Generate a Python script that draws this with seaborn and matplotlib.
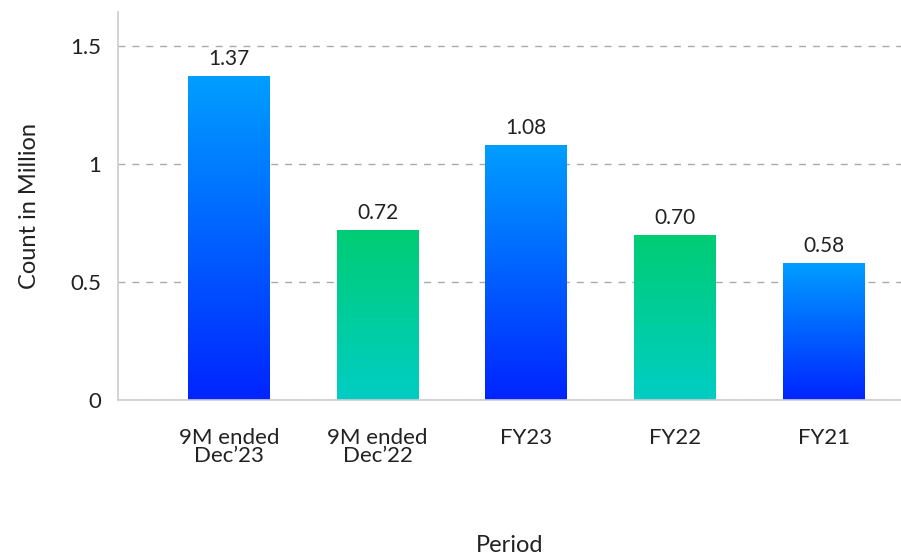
import numpy as np
import pandas as pd
import matplotlib
matplotlib.use("Agg")
import matplotlib.pyplot as plt
from matplotlib.colors import LinearSegmentedColormap
import seaborn as sns

periods = ["9M ended\nDec\u201923", "9M ended\nDec\u201922", "FY23", "FY22", "FY21"]
counts = [1.37, 0.72, 1.08, 0.70, 0.58]
value_labels = ["1.37", "0.72", "1.08", "0.70", "0.58"]
bar_style = ["blue", "green", "blue", "green", "blue"]

df = pd.DataFrame({"Period": periods, "Count": counts})

sns.set_style("white")
plt.rcParams["font.family"] = ["Lato", "DejaVu Sans"]

# gradient maps, top colour first
gradients = {
    "blue": LinearSegmentedColormap.from_list("blue", ["#009eff", "#0024ff"]),
    "green": LinearSegmentedColormap.from_list("green", ["#00cc74", "#00cec4"]),
}

fig = plt.figure(figsize=(9.01, 5.6), dpi=100)
ax = fig.add_axes([0.131, 0.286, 0.869, 0.693])

sns.barplot(data=df, x="Period", y="Count", ax=ax, width=0.55,
            color="white", edgecolor="none")

ax.set_ylim(0, 1.644)
ax.set_xlim(-0.745, 4.52)

# fill each bar with a vertical gradient clipped to the bar
grad = np.linspace(0, 1, 256).reshape(-1, 1)
for patch, style, lab in zip(ax.patches, bar_style, value_labels):
    x0, y0 = patch.get_x(), patch.get_y()
    w, h = patch.get_width(), patch.get_height()
    im = ax.imshow(grad, cmap=gradients[style], aspect="auto",
                   extent=[x0, x0 + w, y0, y0 + h], origin="upper", zorder=2)
    im.set_clip_path(patch)
    ax.annotate(lab, (x0 + w / 2, y0 + h), xytext=(0, 5),
                textcoords="offset points", ha="center", va="bottom",
                fontsize=15, color="#222222")

ax.set_yticks([0, 0.5, 1, 1.5])
ax.set_yticklabels(["0", "0.5", "1", "1.5"])
ax.yaxis.grid(True, linestyle=(0, (5, 5)), color="#aaaaaa", linewidth=1)
ax.set_axisbelow(True)

for s in ["top", "right"]:
    ax.spines[s].set_visible(False)
for s in ["left", "bottom"]:
    ax.spines[s].set_color("#cccccc")
    ax.spines[s].set_linewidth(1.2)

ax.tick_params(axis="both", length=0, labelsize=16, colors="#222222")
ax.tick_params(axis="x", pad=20)
ax.tick_params(axis="y", pad=12)
for t in ax.get_xticklabels():
    t.set_linespacing(0.9)

ax.set_xlabel("Period", fontsize=17, color="#222222", labelpad=50)
ax.set_ylabel("Count in Million", fontsize=17, color="#222222", labelpad=22)

fig.savefig("out.png", dpi=100)
